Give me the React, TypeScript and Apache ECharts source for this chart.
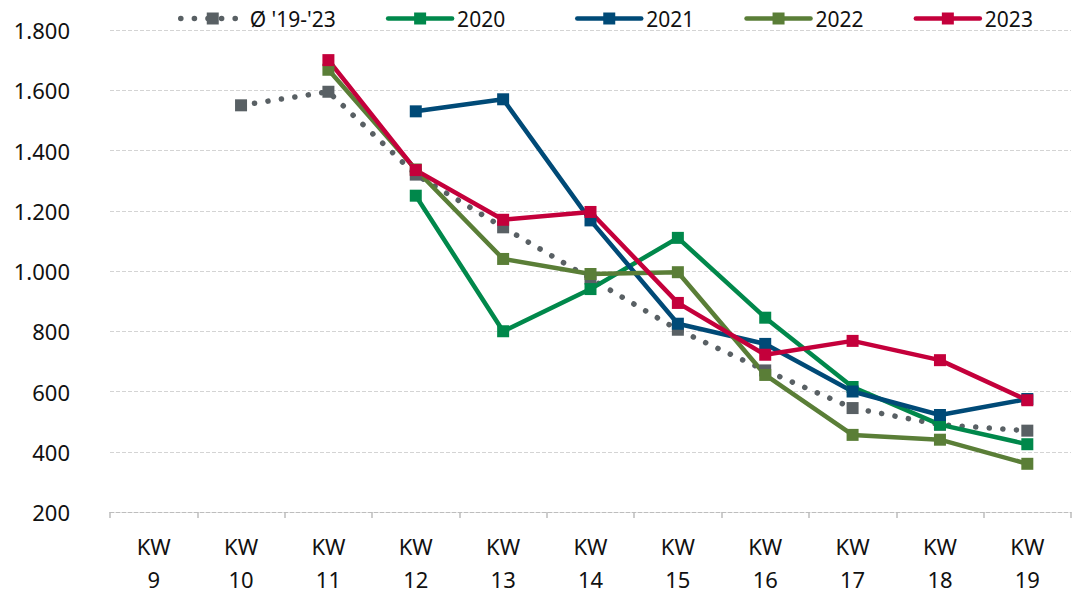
import React, { useEffect, useRef } from "react";
import * as echarts from "echarts";

// Calendar weeks on the x axis
const weeks = ["KW\n9", "KW\n10", "KW\n11", "KW\n12", "KW\n13", "KW\n14", "KW\n15", "KW\n16", "KW\n17", "KW\n18", "KW\n19"];

// Weekly values per year ("-" = no value that week)
const avg19to23 = ["-", 1550, 1595, 1320, 1145, 975, 805, 670, 545, 490, 470];
const y2020 = ["-", "-", "-", 1250, 800, 940, 1110, 845, 615, 490, 425];
const y2021 = ["-", "-", "-", 1530, 1570, 1168, 825, 758, 600, 522, 575];
const y2022 = ["-", "-", 1668, 1337, 1040, 990, 996, 655, 456, 440, 360];
const y2023 = ["-", "-", 1700, 1335, 1170, 1196, 894, 722, 768, 704, 571];

const yTicks = { min: 200, max: 1800, step: 200 };

const FONT = "'Noto Sans', sans-serif";
const GREY = "#596064";
const DOTS = [0.1, 13.5];

const fmtThousands = (v: number) => String(v).replace(/\B(?=(\d{3})+(?!\d))/g, ".");

function lineSeries(name: string, data: (number | string)[], color: string) {
  return {
    name,
    type: "line",
    data,
    symbol: "rect",
    symbolSize: 12,
    showSymbol: true,
    connectNulls: false,
    itemStyle: { color },
    lineStyle: { color, width: 4.5, cap: "round", join: "round" },
    emphasis: { disabled: true },
  };
}

function legendBlock(left: number, names: string[]) {
  return {
    left,
    top: 3,
    itemWidth: 64,
    itemHeight: 15,
    itemGap: 50,
    textStyle: { fontFamily: FONT, fontSize: 21, color: "#111111" },
    lineStyle: { width: 4.5, cap: "round" },
    data: names.map((n) =>
      n === "Ø '19-'23"
        ? { name: n, lineStyle: { width: 5.5, type: DOTS, cap: "round", color: GREY } }
        : { name: n }
    ),
  };
}

export default function App() {
  const ref = useRef<HTMLDivElement>(null);

  useEffect(() => {
    if (!ref.current) return;
    const chart = echarts.init(ref.current, undefined, { renderer: "svg" });
    chart.setOption({
      animation: false,
      backgroundColor: "#ffffff",
      textStyle: { fontFamily: FONT },
      legend: [legendBlock(173, ["Ø '19-'23", "2020"]), legendBlock(570, ["2021", "2022", "2023"])],
      grid: { left: 110, right: 8, top: 30, bottom: 81 },
      xAxis: {
        type: "category",
        data: weeks,
        boundaryGap: true,
        axisLine: { show: true, lineStyle: { color: "#bdbdbd", type: "dashed", width: 1 } },
        axisTick: { show: true, length: 6, lineStyle: { color: "#bdbdbd", width: 1.5 } },
        axisLabel: {
          margin: 17,
          fontFamily: FONT,
          fontSize: 22,
          lineHeight: 33,
          color: "#111111",
        },
        splitLine: { show: false },
      },
      yAxis: {
        type: "value",
        min: yTicks.min,
        max: yTicks.max,
        interval: yTicks.step,
        axisLine: { show: false },
        axisTick: { show: false },
        axisLabel: {
          margin: 40,
          fontFamily: FONT,
          fontSize: 22,
          color: "#111111",
          formatter: (v: number) => fmtThousands(v),
        },
        splitLine: { show: true, lineStyle: { color: "#d4d4d4", type: "dashed", width: 1 } },
      },
      series: [
        {
          name: "Ø '19-'23",
          type: "line",
          data: avg19to23,
          symbol: "rect",
          symbolSize: 12,
          itemStyle: { color: GREY },
          lineStyle: { color: GREY, width: 5.5, type: DOTS, cap: "round" },
          emphasis: { disabled: true },
        },
        lineSeries("2020", y2020, "#00884b"),
        lineSeries("2021", y2021, "#004a77"),
        lineSeries("2022", y2022, "#5a7e37"),
        lineSeries("2023", y2023, "#c4003b"),
      ],
    });
    return () => chart.dispose();
  }, []);

  return (
    <div
      ref={ref}
      style={{ position: "fixed", left: 0, top: 0, width: 1079, height: 595, background: "#fff" }}
    />
  );
}
